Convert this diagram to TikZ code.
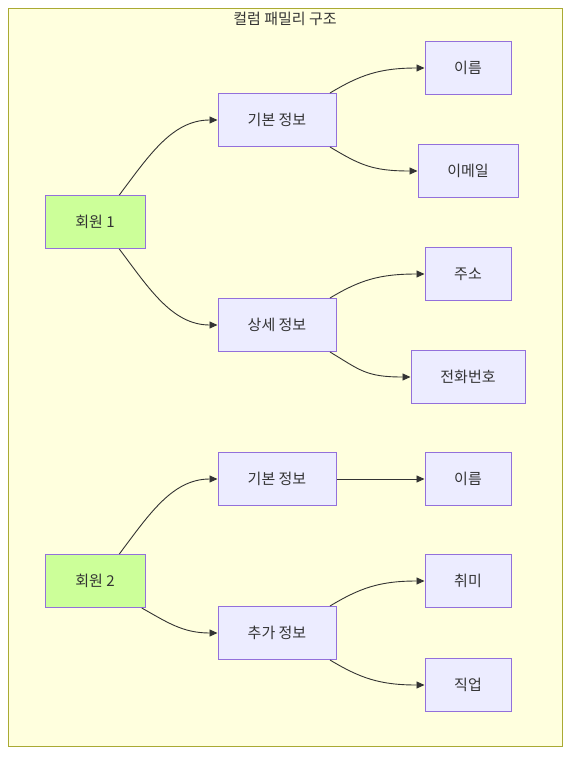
\documentclass[tikz,border=0pt]{standalone}
\usepackage{fontspec}
\setmainfont{Noto Sans CJK KR}
\usetikzlibrary{arrows.meta}
\definecolor{clusterfill}{HTML}{FFFFDE}
\definecolor{clusterline}{HTML}{AAAA33}
\definecolor{boxfill}{HTML}{ECECFF}
\definecolor{boxline}{HTML}{9370DB}
\definecolor{memberfill}{HTML}{CCFF99}
\definecolor{ink}{HTML}{333333}
\begin{document}
\begin{tikzpicture}[x=1pt, y=-1pt,
  font=\fontsize{15}{18}\selectfont,
  box/.style={draw=boxline, fill=boxfill, line width=1pt, text=ink,
    minimum height=53pt, inner sep=0pt},
  member/.style={box, fill=memberfill, minimum width=100pt},
  info/.style={box, minimum width=118pt},
  leaf/.style={box, minimum width=86pt},
  link/.style={draw=ink, line width=0.9pt, -{Triangle[length=8pt,width=7pt]}}]
\useasboundingbox (0,0) rectangle (578,764);
%\draw [lightgray] (0,0) grid[step=50] (578,764);

\draw [fill=clusterfill, draw=clusterline, line width=1pt] (8,8) rectangle (562,746); % cluster
\node [text=ink] (title) at (285,19) {컬럼 패밀리 구조};

% member 1
\node [member] (m1) at (95,222) {회원 1};
\node [info] (b1) at (277,120) {기본 정보};
\node [info] (s1) at (277,325) {상세 정보};
\node [leaf] (n1) at (468,68) {이름};
\node [leaf, minimum width=100pt] (e1) at (468,171) {이메일};
\node [leaf] (a1) at (468,274) {주소};
\node [leaf, minimum width=114pt] (p1) at (468,377) {전화번호};

% member 2
\node [member] (m2) at (95,581) {회원 2};
\node [info] (b2) at (277,479) {기본 정보};
\node [info] (c2) at (277,633) {추가 정보};
\node [leaf] (n2) at (468,479) {이름};
\node [leaf] (h2) at (468,581) {취미};
\node [leaf] (j2) at (468,685) {직업};

\draw [link] (m1.48) .. controls +(30,-40) and +(-45,0) .. (b1.west);
\draw [link] (m1.-48) .. controls +(30,40) and +(-45,0) .. (s1.west);
\draw [link] (b1.27) .. controls +(30,-18) and +(-45,0) .. (n1.west);
\draw [link] (b1.-27) .. controls +(30,18) and +(-45,0) .. (e1.west);
\draw [link] (s1.27) .. controls +(30,-18) and +(-45,0) .. (a1.west);
\draw [link] (s1.-27) .. controls +(30,18) and +(-45,0) .. (p1.west);

\draw [link] (m2.48) .. controls +(30,-40) and +(-45,0) .. (b2.west);
\draw [link] (m2.-30) .. controls +(25,14) and +(-35,0) .. (c2.west);
\draw [link] (b2.east) -- (n2.west);
\draw [link] (c2.27) .. controls +(30,-18) and +(-45,0) .. (h2.west);
\draw [link] (c2.-27) .. controls +(30,18) and +(-45,0) .. (j2.west);

\end{tikzpicture}
\end{document}
